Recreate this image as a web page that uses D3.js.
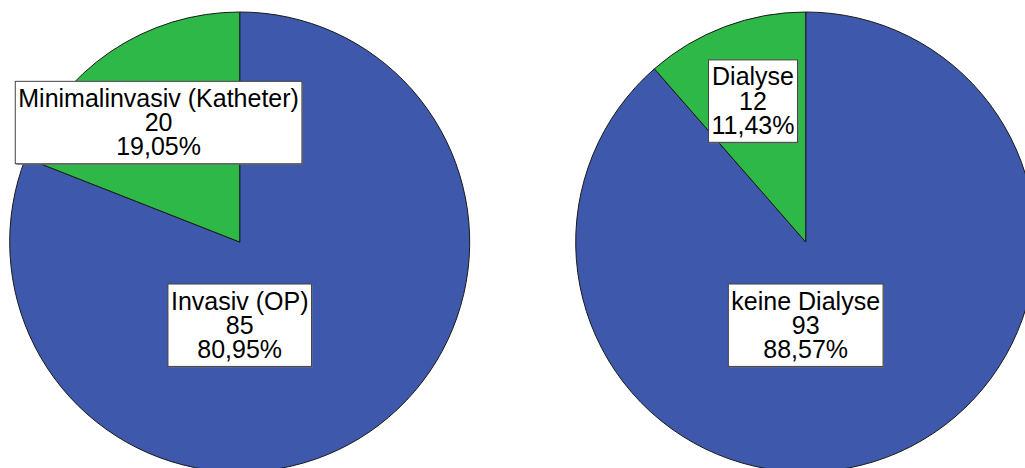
<!DOCTYPE html>
<html><head><meta charset="utf-8">
<script src="https://cdn.jsdelivr.net/npm/d3@7"></script>
<style>html,body{margin:0;padding:0;background:#fff;}svg{display:block;}</style>
</head><body>
<svg id="c" width="1025" height="468"></svg>
<script>
// Data
const pieNames = ["Eingriff", "Dialyse"];
const categoriesLeft = ["Invasiv (OP)", "Minimalinvasiv (Katheter)"];
const valuesLeft = [85, 20];
const percentLeft = ["80,95%", "19,05%"];
const categoriesRight = ["keine Dialyse", "Dialyse"];
const valuesRight = [93, 12];
const percentRight = ["88,57%", "11,43%"];
const colors = ["#3E58AC", "#2EB848"];

const svg = d3.select("#c");
const R = 230;
const cxScale = d3.scalePoint().domain(pieNames).range([239.7, 805.7]);
const cy = 242;

const pies = [
  {name: pieNames[0], cats: categoriesLeft, vals: valuesLeft, pct: percentLeft},
  {name: pieNames[1], cats: categoriesRight, vals: valuesRight, pct: percentRight}
];

const pie = d3.pie().sort(null).value(d => d);
const arc = d3.arc().innerRadius(0).outerRadius(R);
const color = d3.scaleOrdinal().domain([0,1]).range(colors);

pies.forEach((p, pi) => {
  const g = svg.append("g").attr("transform", `translate(${cxScale(p.name)},${cy})`);
  const arcs = pie(p.vals);
  g.selectAll("path").data(arcs).enter().append("path")
    .attr("d", arc)
    .attr("fill", (d, i) => color(i))
    .attr("stroke", "#1a1a1a")
    .attr("stroke-width", 1);

  const labelArc = d3.arc().innerRadius(0).outerRadius(R * (pi === 0 ? 1.252 : 1.304));
  arcs.forEach((a, i) => {
    let pos;
    if (i === 0) pos = [0, R * 0.364];
    else pos = labelArc.centroid(a);
    const lg = g.append("g").attr("transform", `translate(${pos[0]},${pos[1]})`);
    const lines = [p.cats[i], String(p.vals[i]), p.pct[i]];
    const lh = 24.2;
    const shadow = lg.append("rect");
    const box = lg.append("rect");
    const t = lg.append("text")
      .attr("font-family", "Liberation Sans, Arial, sans-serif")
      .attr("font-size", 25)
      .attr("text-anchor", "middle")
      .attr("fill", "#000");
    lines.forEach((s, k) => {
      t.append("tspan").attr("x", 0).attr("y", (k - 1) * lh + 8).text(s);
    });
    const bb = t.node().getBBox();
    const x0 = bb.x - 3, y0 = bb.y - 2.5, w = bb.width + 6, h = bb.height + 6;
    shadow.attr("x", x0 + 1).attr("y", y0 + 1).attr("width", w).attr("height", h)
      .attr("fill", "#777");
    box.attr("x", x0).attr("y", y0).attr("width", w).attr("height", h)
      .attr("fill", "#fff").attr("stroke", "#444").attr("stroke-width", 1);
  });
});
</script>
</body></html>
